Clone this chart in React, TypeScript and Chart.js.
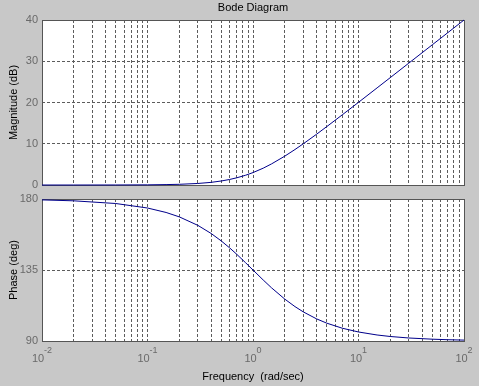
import React, { useEffect, useRef } from 'react';
import { Chart, registerables } from 'chart.js';

Chart.register(...registerables);

// ---- data ----
const frequency = [0.01, 0.02, 0.05, 0.1, 0.15, 0.2, 0.3, 0.4, 0.5, 0.6, 0.7, 0.85, 1, 1.25, 1.5, 2, 2.5, 3, 4, 5, 7, 10, 15, 20, 30, 50, 70, 100];
const magnitudeDb = [0.0, 0.0, 0.01, 0.04, 0.1, 0.17, 0.37, 0.64, 0.97, 1.34, 1.74, 2.36, 3.01, 4.08, 5.12, 6.99, 8.6, 10.0, 12.3, 14.15, 16.99, 20.04, 23.54, 26.03, 29.55, 33.98, 36.9, 40.0];
const phaseDeg = [179.43, 178.85, 177.14, 174.29, 171.47, 168.69, 163.3, 158.2, 153.43, 149.04, 145.01, 139.63, 135.0, 128.66, 123.69, 116.57, 111.8, 108.43, 104.04, 101.31, 98.13, 95.71, 93.81, 92.86, 91.91, 91.15, 90.82, 90.57];

const decades = [0.01, 0.1, 1, 10, 100];
const decadeExponents = ['-2', '-1', '0', '1', '2'];
const minorMultipliers = [2, 3, 4, 5, 6, 7, 8, 9];
const magnitudeTicks = [0, 10, 20, 30, 40];
const phaseTicks = [90, 135, 180];

const titleText = 'Bode Diagram';
const magLabel = 'Magnitude (dB)';
const phaseLabel = 'Phase (deg)';
const freqLabel = 'Frequency  (rad/sec)';

// ---- styles ----
const BG = '#c8c8c8';
const GRID = '#5c5c5c';
const FRAME = '#555555';
const TICK = '#6a6a6a';
const LINE = '#00008b';
const FONT = "'Liberation Sans', Arial, sans-serif";

const gridTicks: number[] = [];
decades.forEach((d, i) => {
  gridTicks.push(d);
  if (i < decades.length - 1) minorMultipliers.forEach((m) => gridTicks.push(d * m));
});

const align = (p: number) => Math.round(p - 0.5) + 0.5;

const framePlugin = {
  id: 'frame',
  beforeDraw(chart: any) {
    const { ctx, chartArea: a } = chart;
    ctx.save();
    ctx.fillStyle = '#ffffff';
    ctx.fillRect(a.left, a.top, a.right - a.left, a.bottom - a.top);
    ctx.restore();
  },
  beforeDatasetsDraw(chart: any) {
    const { ctx, chartArea: a } = chart;
    ctx.save();
    ctx.strokeStyle = FRAME;
    ctx.lineWidth = 1;
    ctx.setLineDash([]);
    const l = align(a.left), r = align(a.right), t = align(a.top), b = align(a.bottom);
    ctx.strokeRect(l, t, r - l, b - t);
    ctx.restore();
  },
};

function makeX() {
  return {
    type: 'logarithmic',
    min: 0.01,
    max: 100,
    afterBuildTicks: (s: any) => {
      s.ticks = gridTicks.map((v) => ({ value: v }));
    },
    ticks: { display: false },
    grid: { color: GRID, lineWidth: 1, drawTicks: false },
    border: { display: false, dash: [3, 2] },
    afterFit: (s: any) => {
      s.height = 0;
      s.paddingLeft = 0;
      s.paddingRight = 0;
      s.paddingTop = 0;
      s.paddingBottom = 0;
    },
  };
}

function makeY(min: number, max: number, ticks: number[], label: string) {
  return {
    min,
    max,
    afterBuildTicks: (s: any) => {
      s.ticks = ticks.map((v) => ({ value: v }));
    },
    ticks: { color: TICK, font: { family: FONT, size: 11 }, padding: 4, autoSkip: false },
    grid: { color: GRID, lineWidth: 1, drawTicks: false },
    border: { display: false, dash: [3, 2] },
    title: {
      display: true,
      text: label,
      color: '#000000',
      font: { family: FONT, size: 11 },
      padding: { top: 7, bottom: 0 },
    },
    afterFit: (s: any) => {
      s.width = 42;
      s.paddingTop = 0;
      s.paddingBottom = 0;
      s.paddingLeft = 0;
      s.paddingRight = 0;
    },
  };
}

const topTextPlugin = {
  id: 'topText',
  afterDraw(chart: any) {
    const { ctx, chartArea: a } = chart;
    ctx.save();
    ctx.fillStyle = '#000000';
    ctx.font = `11px ${FONT}`;
    ctx.textAlign = 'center';
    ctx.textBaseline = 'middle';
    ctx.fillText(titleText, (a.left + a.right) / 2, 8);
    ctx.restore();
  },
};

const bottomTextPlugin = {
  id: 'bottomText',
  afterDraw(chart: any) {
    const { ctx, chartArea: a } = chart;
    const xs = chart.scales.x;
    ctx.save();
    ctx.fillStyle = TICK;
    ctx.textBaseline = 'alphabetic';
    ctx.textAlign = 'left';
    decades.forEach((d, i) => {
      const px = xs.getPixelForValue(d);
      ctx.font = `11px ${FONT}`;
      const w1 = ctx.measureText('10').width;
      ctx.font = `9px ${FONT}`;
      const w2 = ctx.measureText(decadeExponents[i]).width;
      const start = px - (w1 + w2) / 2;
      ctx.font = `11px ${FONT}`;
      ctx.fillText('10', start, a.bottom + 21);
      ctx.font = `9px ${FONT}`;
      ctx.fillText(decadeExponents[i], start + w1, a.bottom + 12);
    });
    ctx.fillStyle = '#000000';
    ctx.font = `11px ${FONT}`;
    ctx.textAlign = 'center';
    ctx.textBaseline = 'middle';
    ctx.fillText(freqLabel, (a.left + a.right) / 2, a.bottom + 36);
    ctx.restore();
  },
};

export default function App() {
  const topRef = useRef<HTMLCanvasElement>(null);
  const botRef = useRef<HTMLCanvasElement>(null);

  useEffect(() => {
    const common = {
      animation: false,
      responsive: false,
      maintainAspectRatio: false,
      devicePixelRatio: 1,
      events: [],
      plugins: { legend: { display: false }, tooltip: { enabled: false }, title: { display: false } },
    };

    const top = new Chart(topRef.current as HTMLCanvasElement, {
      type: 'line',
      data: {
        datasets: [
          {
            data: frequency.map((f, i) => ({ x: f, y: magnitudeDb[i] })),
            borderColor: LINE,
            borderWidth: 1,
            pointRadius: 0,
            tension: 0,
            clip: false,
          } as any,
        ],
      },
      options: {
        ...common,
        layout: { padding: { left: 0, top: 20, right: 15, bottom: 7 } },
        scales: { x: makeX(), y: makeY(0, 40, magnitudeTicks, magLabel) },
      } as any,
      plugins: [framePlugin, topTextPlugin],
    });

    const bot = new Chart(botRef.current as HTMLCanvasElement, {
      type: 'line',
      data: {
        datasets: [
          {
            data: frequency.map((f, i) => ({ x: f, y: phaseDeg[i] })),
            borderColor: LINE,
            borderWidth: 1,
            pointRadius: 0,
            tension: 0,
            clip: false,
          } as any,
        ],
      },
      options: {
        ...common,
        layout: { padding: { left: 0, top: 7, right: 15, bottom: 45 } },
        scales: { x: makeX(), y: makeY(90, 180, phaseTicks, phaseLabel) },
      } as any,
      plugins: [framePlugin, bottomTextPlugin],
    });

    return () => {
      top.destroy();
      bot.destroy();
    };
  }, []);

  return (
    <div style={{ position: 'fixed', left: 0, top: 0, width: 479, height: 386, background: BG, overflow: 'hidden' }}>
      <canvas ref={topRef} width={479} height={192} style={{ position: 'absolute', left: 0, top: 0, display: 'block' }} />
      <canvas ref={botRef} width={479} height={194} style={{ position: 'absolute', left: 0, top: 192, display: 'block' }} />
    </div>
  );
}
